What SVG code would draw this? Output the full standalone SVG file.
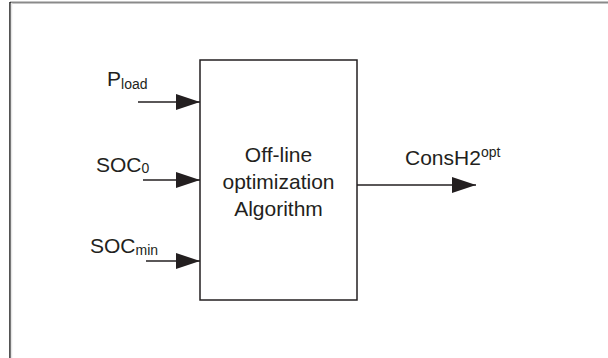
<svg xmlns="http://www.w3.org/2000/svg" width="608" height="358" viewBox="0 0 608 358">
<style>
text{font-family:"Liberation Sans",Arial,sans-serif;fill:#231f20;}
.t{font-size:21px;}
.s{font-size:14px;}
.ln{stroke:#231f20;stroke-width:1.5;fill:none;}
</style>
<defs>
<marker id="ah" markerWidth="24" markerHeight="16" refX="24" refY="8" orient="auto" markerUnits="userSpaceOnUse">
<path d="M0,0 L24,8 L0,16 Z" fill="#231f20"/>
</marker>
</defs>
<rect x="0" y="0" width="608" height="358" fill="#ffffff"/>
<g id="frame">
<line x1="10" y1="2.5" x2="608" y2="2.5" stroke="#8a8a8a" stroke-width="2"/>
<line x1="10" y1="2" x2="10" y2="358" stroke="#1a1a1a" stroke-width="1.5"/>
<line x1="11.5" y1="3" x2="11.5" y2="358" stroke="#e6e6e6" stroke-width="1.5"/>
</g>
<g id="algo">
<rect class="ln" x="200" y="60" width="157" height="240"/>
<text class="t" x="278.5" y="162" text-anchor="middle">Off-line</text>
<text class="t" x="278.5" y="189" text-anchor="middle">optimization</text>
<text class="t" x="278.5" y="216" text-anchor="middle">Algorithm</text>
</g>
<g id="pload">
<text class="t" x="107" y="86">P<tspan class="s" dy="3">load</tspan></text>
</g>
<g id="soc0">
<text class="t" x="96" y="172">SOC<tspan class="s" dy="1">0</tspan></text>
</g>
<g id="socmin">
<text class="t" x="90" y="253">SOC<tspan class="s" dy="2">min</tspan></text>
</g>
<g id="consh2">
<text class="t" x="405" y="165">ConsH2<tspan class="s" dy="-8">opt</tspan></text>
</g>
<g id="connectors">
<line class="ln" x1="138" y1="102" x2="200" y2="102" marker-end="url(#ah)"/>
<line class="ln" x1="143" y1="180" x2="200" y2="180" marker-end="url(#ah)"/>
<line class="ln" x1="146" y1="261" x2="200" y2="261" marker-end="url(#ah)"/>
<line class="ln" x1="357" y1="185" x2="476" y2="185" marker-end="url(#ah)"/>
</g>
</svg>
